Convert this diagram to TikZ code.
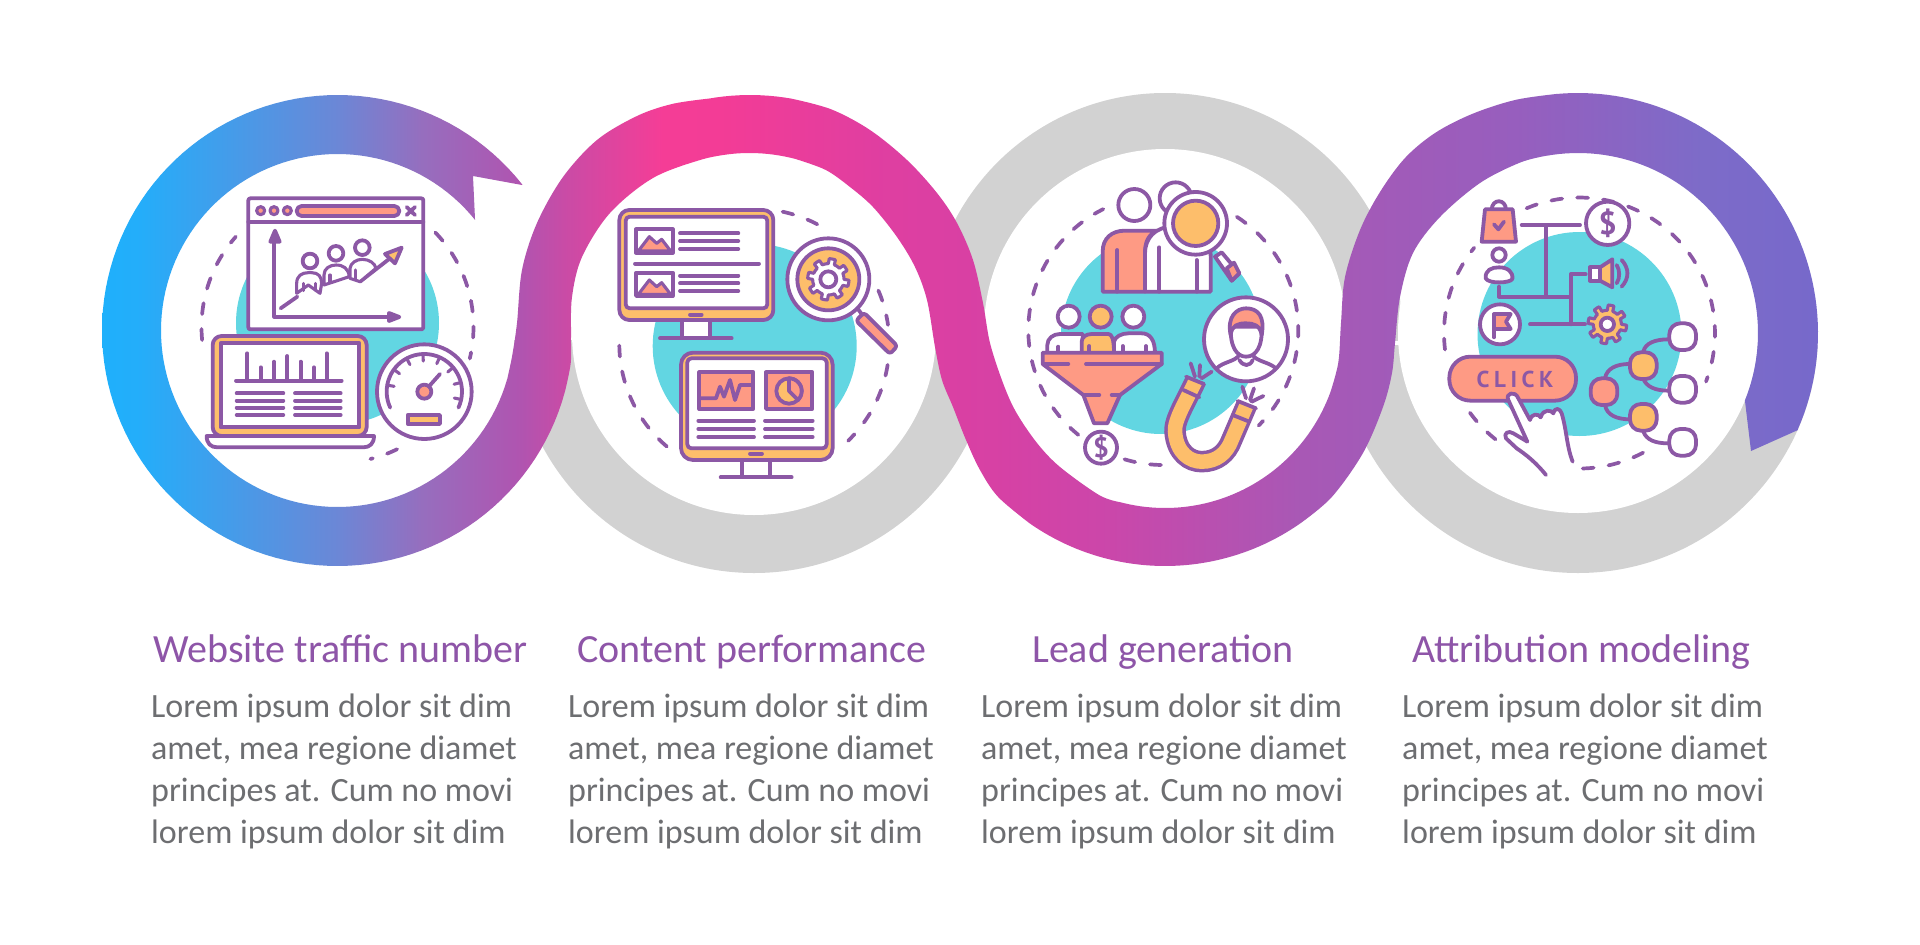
\documentclass[tikz,border=0pt]{standalone}
\usepackage{fontspec}
\setmainfont{Carlito}
\newfontfamily\clickf[LetterSpace=20]{PT Sans}
\newfontfamily\symf{PT Sans}
\definecolor{lc}{RGB}{140,88,165}
\definecolor{tealc}{RGB}{98,214,226}
\definecolor{ora}{RGB}{253,190,107}
\definecolor{sal}{RGB}{254,154,132}
\definecolor{gry}{RGB}{210,210,210}
\definecolor{ttl}{RGB}{142,85,168}
\definecolor{bod}{RGB}{109,110,113}
\pgfdeclarehorizontalshading{ribbonsh}{100bp}{
 rgb(0bp)=(.12,.69,.985); rgb(25bp)=(.12,.69,.985); rgb(26.1bp)=(.14,.68,.98);
 rgb(31.85bp)=(.42,.53,.84); rgb(34.35bp)=(.59,.43,.745); rgb(37.2bp)=(.69,.33,.69);
 rgb(38.5bp)=(.79,.295,.65); rgb(41.3bp)=(.96,.24,.59); rgb(43.3bp)=(.95,.235,.59);
 rgb(47.7bp)=(.875,.245,.63); rgb(51.2bp)=(.84,.255,.645); rgb(54.1bp)=(.80,.275,.665);
 rgb(59.9bp)=(.66,.345,.71); rgb(66.3bp)=(.59,.37,.745); rgb(71.6bp)=(.49,.42,.785);
 rgb(75bp)=(.465,.41,.795); rgb(100bp)=(.465,.41,.795)}
\tikzset{
 ic/.style={line width=3.8pt,draw=lc,line join=round,line cap=round},
 thin ic/.style={line width=3.1pt,draw=lc,line join=round,line cap=round},
 dsh/.style={line width=3.7pt,draw=lc,line cap=round,dash pattern=on 11pt off 15pt},
 crop/.style 2 args={shift={(#1,#2)},x=.33333pt,y=-.33333pt},
 titletxt/.style={anchor=base west,inner sep=0pt,text=ttl,font=\fontsize{40}{46}\selectfont},
 bodytxt/.style={anchor=base west,inner sep=0pt,text=bod,font=\fontsize{34}{42}\selectfont}
}
\newcommand\dasharc[5]{\draw[dsh] plot[domain=#4:#5,samples=40] ({#1+#3*cos(\x)},{#2+#3*sin(\x)});}
\newcommand\gearshape[5][white]{\draw[thin ic,fill=#1] plot[domain=0:360,samples=145] ({#2+(#4+(#5-#4)*(sin(8*\x)>0))*cos(\x)},{#3+(#4+(#5-#4)*(sin(8*\x)>0))*sin(\x)}) -- cycle;}
\newcommand\bodycol[2]{
 \node[bodytxt] (#1a) at (#2,717) {Lorem ipsum dolor sit dim};
 \node[bodytxt] (#1b) at (#2,759) {amet, mea regione diamet};
 \node[bodytxt] (#1c) at (#2,801) {principes at. Cum no movi};
 \node[bodytxt] (#1d) at (#2,843) {lorem ipsum dolor sit dim};}
\begin{document}
\begin{tikzpicture}[x=1pt,y=-1pt]
\useasboundingbox (0,0) rectangle (1920,945);
\fill[white] (0,0) rectangle (1920,945);
% grey rings
\begin{scope}
 \clip (400,340) rectangle (1000,600);
 \fill[gry] (754,333) circle (240);
\end{scope}
\begin{scope}
 \clip (900,60) rectangle (1420,340);
 \fill[gry] (1165,330) circle (237);
\end{scope}
\begin{scope}
 \clip (1300,345) rectangle (1850,600);
 \fill[gry] (1578,333) circle (240);
\end{scope}
\fill[white] (754,333) circle (182);
\fill[white] (1165,330) circle (181);
\fill[white] (1578,333) circle (180);
% ribbon
\path[shading=ribbonsh]
 (522,185)
 -- plot[domain=-38.3:-345,samples=120] ({337.5+235.5*cos(\x)},{330.5+235.5*sin(\x)})
 -- plot[smooth,tension=.55] coordinates {(565,391.4)(570.7,363.3)(571,337)(572,297)(582,257)(610,213)(653,178)(702.8,159.2)(733.8,153.7)}
 -- plot[domain=-95:-75,samples=12] ({749.5+180.5*cos(\x)},{333.5+180.5*sin(\x)})
 -- plot[smooth,tension=.55] coordinates {(796.2,159.2)(825.8,170)(850,187)(873,207)(897,237)(915,267)(927,300)(935,347)(942,380)(953,407)(966,440)(980,470)(998.1,496.9)(1029.6,523.3)}
 -- plot[domain=125:55,samples=50] ({1165+236*cos(\x)},{330+236*sin(\x)})
 -- plot[smooth,tension=.55] coordinates {(1300.4,523.3)(1331.9,496.9)(1363,453)(1383,407)(1392,373)(1395,343)(1400,297)(1413,253)(1440,217)(1480,183)(1520,162.6)(1546.7,155.7)}
 -- plot[domain=-100:22,samples=60] ({1578+180*cos(\x)},{333+180*sin(\x)})
 -- (1751,451) -- (1798,430)
 -- plot[domain=23.8:-95,samples=60] ({1578+240*cos(\x)},{333+240*sin(\x)})
 -- plot[smooth,tension=.55] coordinates {(1557.1,93.9)(1515,100)(1472,114)(1435,133)(1405,158)(1380,192)(1360,230)(1345,277)(1341,323)(1338.3,362.6)(1330.4,392.2)}
 -- plot[domain=20:105,samples=50] ({1165+176*cos(\x)},{332+176*sin(\x)})
 -- plot[smooth,tension=.55] coordinates {(1119.4,502)(1099,495)(1060,467)(1037,443)(1016,412)(1003,383)(990,343)(983,303)(973,260)(957,223)(937,193)(907,160)(870,130)(831.4,109.4)(791.3,98.6)}
 -- plot[domain=-80:-100,samples=12] ({750+238*cos(\x)},{333+238*sin(\x)})
 -- plot[smooth,tension=.55] coordinates {(708.7,98.6)(672,104)(637,116)(597,140)(563,177)(537,223)(522,270)(517,323)(512.3,355)(507.2,379.2)}
 -- plot[domain=16:321.2,samples=120] ({337.5+176.5*cos(\x)},{330.5+176.5*sin(\x)})
 -- (473,176) -- cycle;
% teal discs
\fill[tealc] (337.5,323) circle (101.5);
\fill[tealc] (754.7,346) circle (102);
\fill[tealc] (1161,334) circle (100);
\fill[tealc] (1579.5,334) circle (102);
% dashed rings
\dasharc{337.5}{327}{136}{174.5}{221.6}
\dasharc{337.5}{327}{136}{-44}{13.4}
\dasharc{337.5}{327}{136}{64}{76}
\dasharc{754.3}{343.7}{135}{-77.9}{-58.7}
\dasharc{754.3}{343.7}{135}{-23.2}{-8}
\dasharc{754.3}{343.7}{135}{9}{46}
\dasharc{754.3}{343.7}{135}{130.4}{184.5}
\dasharc{1163.3}{330}{135}{91}{108}
\dasharc{1163.3}{330}{135}{129}{243.6}
\dasharc{1163.3}{330}{135}{-57}{45}
\dasharc{1579.5}{333}{135.5}{173}{219}
\dasharc{1579.5}{333}{135.5}{247}{381}
\dasharc{1579.5}{333}{135.5}{128.3}{144.7}
\dasharc{1579.5}{333}{135.5}{62}{91}
% ---------- icon 1
\begin{scope}[crop={90}{80}]
 \draw[ic,fill=white,rounded corners=2pt] (475,355) rectangle (1000,748);
 \draw[ic] (475,425)--(1000,425);
 \foreach \X in {512,552,592} \draw[thin ic,fill=sal] (\X,392) circle (12);
 \draw[ic,fill=sal,rounded corners=5pt] (620,378) rectangle (928,408);
 \draw[ic] (950,381)--(975,405) (975,381)--(950,405);
 \draw[ic] (553,480)--(553,710)--(900,710);
 \draw[ic,fill=lc] (541,485)--(569,485)--(555,452)--cycle;
 \draw[ic,fill=lc] (897,699)--(897,723)--(928,711)--cycle;
 \draw[ic] (572,685)--(622,650) (810,605)--(900,535);
 \draw[ic] (660,543) circle (22) (738,520) circle (22) (817,503) circle (22);
 \draw[thin ic,fill=white] (620,640)--(620,610) .. controls (620,588) and (635,578) .. (655,578) -- (665,578) .. controls (685,578) and (695,590) .. (695,610) -- (690,640) -- (655,615) -- cycle;
 \draw[thin ic,fill=white] (702,615)--(702,585) .. controls (702,565) and (720,555) .. (738,555) .. controls (760,555) and (775,565) .. (778,590) -- (702,615);
 \draw[thin ic,fill=white] (780,595)--(780,565) .. controls (782,548) and (800,538) .. (817,538) .. controls (838,538) and (855,550) .. (858,565) -- (810,605) -- cycle;
 \draw[thin ic] (640,610)--(640,632) (677,610)--(677,632) (720,585)--(720,608) (797,570)--(797,598);
 \draw[ic,fill=ora] (885,522)--(935,503)--(915,550)--cycle;
 \draw[ic,fill=ora,rounded corners=9pt] (368,1068)--(368,768)--(830,768)--(830,1068)--cycle;
 \draw[ic,fill=white] (392,790) rectangle (808,1042);
 \draw[ic,fill=white] (350,1068)--(852,1068) .. controls (852,1090) and (840,1102) .. (820,1102) -- (382,1102) .. controls (362,1102) and (350,1090) .. (350,1068) -- cycle;
 \draw[ic] (438,902)--(755,902);
 \draw[ic] (472,820)--(472,902) (512,862)--(512,902) (552,845)--(552,902) (592,828)--(592,902) (632,845)--(632,902) (672,862)--(672,902) (710,820)--(710,902);
 \foreach \Y in {940,962,983,1005} \draw[ic] (440,\Y)--(580,\Y) (615,\Y)--(752,\Y);
 \draw[ic,fill=white] (1003,935) circle (142);
 \draw[ic] plot[domain=155:385,samples=40] ({1003+113*cos(\x)},{935+113*sin(\x)});
 \foreach \a in {190,216,242,268,294,320,346,372} \draw[thin ic] ({1003+113*cos(\a)},{935+113*sin(\a)})--({1003+92*cos(\a)},{935+92*sin(\a)});
 \draw[ic] (1018,918)--(1050,882);
 \draw[ic,fill=sal] (1003,935) circle (21);
 \draw[ic,fill=ora] (953,1005) rectangle (1050,1032);
\end{scope}
% ---------- icon 2
\begin{scope}[crop={560}{170}]
 \draw[ic,fill=white] (365,450) rectangle (450,505);
 \draw[ic] (300,505)--(515,505);
 \draw[ic,fill=ora,rounded corners=10pt] (178,120) rectangle (640,450);
 \draw[ic,fill=white,rounded corners=4pt] (197,140) rectangle (622,415);
 \draw[ic] (390,434)--(425,434);
 \foreach \Y in {0,130}{
  \draw[ic,fill=white] (228,178+\Y) rectangle (338,248+\Y);
  \draw[thin ic,fill=sal] (235,243+\Y)--(268,200+\Y)--(290,220+\Y)--(305,208+\Y)--(332,243+\Y)--cycle;
  \draw[ic] (360,190+\Y-3*\Y/130)--(535,190+\Y-3*\Y/130) (360,213+\Y-3*\Y/130)--(535,213+\Y-3*\Y/130) (360,237+\Y-4*\Y/130)--(535,237+\Y-4*\Y/130);
 }
 \draw[ic] (225,281)--(597,281);
 \draw[ic] (890,412)--(905,432);
 \draw[ic,fill=sal,rounded corners=3pt] (888,452)--(912,428)--(1012,528)--(990,552)--cycle;
 \draw[ic,fill=white] (805,328) circle (123);
 \draw[ic,fill=ora] (805,328) circle (93);
 \gearshape{805}{328}{47}{62}
 \draw[ic,fill=white] (805,328) circle (24);
 \draw[ic,fill=white] (547,870) rectangle (630,922);
 \draw[ic] (482,922)--(695,922);
 \draw[ic,fill=ora,rounded corners=12pt] (363,548) rectangle (818,870);
 \draw[ic,fill=white,rounded corners=4pt] (382,565) rectangle (800,835);
 \draw[ic] (570,851)--(606,851);
 \draw[ic,fill=sal] (418,607) rectangle (580,717);
 \draw[ic,fill=sal] (618,607) rectangle (757,717);
 \draw[ic] (420,685)--(468,685)--(480,650)--(492,680)--(510,630)--(525,690)--(540,645)--(578,645);
 \draw[ic,fill=ora] (687,663) circle (38);
 \draw[ic,fill=sal] (687,663)--plot[domain=-90:45,samples=20] ({687+38*cos(\x)},{663+38*sin(\x)})--cycle;
 \foreach \Y in {752,777,801} \draw[ic] (415,\Y)--(582,\Y) (615,\Y)--(758,\Y);
\end{scope}
% ---------- icon 3
\begin{scope}[crop={1000}{160}]
 \draw[ic,fill=white] (527,115) circle (48);
 \draw[ic,fill=white] (403,135) circle (48);
 \draw[ic,fill=sal] (308,395)--(308,275) .. controls (308,235) and (335,212) .. (375,212) -- (470,212) .. controls (445,225) and (435,245) .. (435,280) -- (435,395) -- cycle;
 \draw[ic,fill=white] (435,395)--(435,280) .. controls (435,235) and (465,200) .. (520,200) -- (570,200) .. controls (610,200) and (632,240) .. (632,290) -- (632,395) -- cycle;
 \draw[ic] (352,270)--(352,395) (478,262)--(478,395) (590,300)--(590,395);
 \draw[ic,fill=white] (645,290)--(665,277)--(718,340)--(695,362)--cycle;
 \draw[ic,fill=sal] (680,325)--(702,308)--(718,340)--(695,362)--cycle;
 \draw[ic,fill=white] (587,190) circle (94);
 \draw[ic,fill=ora] (587,190) circle (68);
 \draw[ic,fill=white] (206,470) circle (33);
 \draw[ic,fill=ora] (302,470) circle (33);
 \draw[ic,fill=white] (400,470) circle (33);
 \draw[ic,fill=white] (142,580)--(142,555) .. controls (142,535) and (160,522) .. (180,522) -- (248,522) -- (248,580) -- cycle;
 \draw[ic,fill=white] (342,580)--(342,545) .. controls (345,530) and (365,520) .. (385,520) -- (425,520) .. controls (450,520) and (465,540) .. (465,580) -- cycle;
 \draw[ic,fill=ora] (245,580)--(245,545) .. controls (245,532) and (258,522) .. (275,522) -- (325,522) .. controls (335,522) and (342,535) .. (342,580) -- cycle;
 \draw[ic] (175,560)--(175,580) (268,558)--(268,580) (368,558)--(368,580) (438,558)--(438,580);
 \draw[ic,fill=sal] (128,578)--(485,578)--(485,612)--(360,705)--(322,790)--(282,790)--(250,705)--(128,612)--cycle;
 \draw[ic] (130,612)--(205,612) (258,612)--(485,612) (250,705)--(298,705) (335,705)--(360,705);
 \draw[ic,fill=white] (303,863) circle (48);
 \node[text=lc,font=\fontsize{28}{28}\selectfont\symf\bfseries] (dollara) at (303,863) {\$};
 \draw[ic,fill=white] (738,538) circle (126);
 \begin{scope}
  \clip (738,538) circle (124);
  \draw[ic] (650,625) .. controls (670,605) and (705,605) .. (718,585) (758,585) .. controls (770,605) and (805,605) .. (828,625) (718,600) .. controls (730,620) and (750,620) .. (758,600);
 \end{scope}
 \draw[ic,fill=white] (692,500) .. controls (690,560) and (710,590) .. (738,590) .. controls (768,590) and (788,560) .. (785,500) -- cycle;
 \draw[ic,fill=sal] (692,525) .. controls (680,470) and (710,445) .. (738,445) .. controls (775,445) and (795,470) .. (785,525) .. controls (780,495) and (760,490) .. (738,490) .. controls (715,490) and (695,495) .. (692,525) -- cycle;
 \draw[draw=lc,line width=21.5pt] (588,660) .. controls (560,720) and (522,780) .. (525,815) .. controls (530,880) and (570,905) .. (605,905) .. controls (650,905) and (680,880) .. (695,840) -- (740,735);
 \draw[draw=ora,line width=14.5pt] (588,660) .. controls (560,720) and (522,780) .. (525,815) .. controls (530,880) and (570,905) .. (605,905) .. controls (650,905) and (680,880) .. (695,840) -- (740,735);
 \draw[ic] (558,650)--(612,672) (713,723)--(768,745) (550,690)--(598,712) (698,765)--(748,785);
 \draw[ic] (572,610)--(585,650) (600,615)--(598,650) (635,635)--(605,655) (727,680)--(738,715) (762,685)--(750,720) (790,708)--(755,725);
\end{scope}
% ---------- icon 4
\begin{scope}[crop={1420}{180}]
 \draw[ic] (215,90) .. controls (215,55) and (258,55) .. (258,90);
 \draw[ic,fill=sal] (195,88)--(278,88)--(288,185)--(185,185)--cycle;
 \draw[ic] (222,133)--(235,148)--(252,125);
 \draw[ic] (305,135)--(480,135) (378,135)--(378,350) (237,320)--(237,350)--(452,350) (497,283)--(452,283)--(452,433) (330,433)--(495,433);
 \draw[ic,fill=white] (563,130) circle (65);
 \node[text=lc,font=\fontsize{32}{32}\selectfont\symf\bfseries] (dollarb) at (563,130) {\$};
 \draw[ic,fill=white] (237,225) circle (20);
 \draw[ic,fill=white] (197,295) .. controls (195,270) and (215,262) .. (237,262) .. controls (262,262) and (280,275) .. (277,297) .. controls (270,310) and (205,312) .. (197,295) -- cycle;
 \draw[ic,fill=white] (240,433) circle (60);
 \draw[ic,fill=sal] (222,402)--(272,402)--(258,425)--(272,447)--(222,447)--cycle;
 \draw[ic] (222,402)--(222,472);
 \draw[ic,fill=white] (510,262) rectangle (540,302);
 \draw[ic,fill=ora] (540,262)--(577,238)--(577,322)--(540,302)--cycle;
 \draw[ic] (590,255) .. controls (600,270) and (600,295) .. (590,310) (605,240) .. controls (628,265) and (628,295) .. (605,320);
 \gearshape[ora]{562}{433}{42}{58}
 \draw[ic,fill=white] (562,433) circle (20);
 \draw[ic,fill=sal,rounded corners=21pt] (88,530) rectangle (468,662);
 \node[text=lc,font=\fontsize{23}{23}\selectfont\clickf\bfseries] (clicktxt) at (285,598) {CLICK};
 \draw[ic,fill=white] (378,885) .. controls (350,850) and (320,825) .. (290,805) -- (258,775) .. controls (250,760) and (265,750) .. (280,760) -- (322,785) -- (265,660) .. controls (255,640) and (285,630) .. (295,655) -- (330,720) .. controls (335,700) and (355,700) .. (362,712) .. controls (370,685) and (395,690) .. (400,700) .. controls (405,680) and (420,685) .. (425,700) .. controls (440,750) and (440,800) .. (458,845);
 \draw[ic] (555,595) .. controls (560,565) and (590,552) .. (628,552) (555,675) .. controls (560,705) and (590,718) .. (630,718) (670,515) .. controls (675,490) and (705,478) .. (745,478) (670,597) .. controls (680,620) and (705,632) .. (745,632) (670,755) .. controls (680,780) and (705,790) .. (745,790);
 \draw[ic,fill=sal,rounded corners=11pt] (512,595) rectangle (592,675);
 \draw[ic,fill=ora,rounded corners=11pt] (630,517) rectangle (710,597);
 \draw[ic,fill=ora,rounded corners=11pt] (630,672) rectangle (710,752);
 \draw[ic,fill=white,rounded corners=11pt] (748,430) rectangle (828,510);
 \draw[ic,fill=white,rounded corners=11pt] (748,588) rectangle (828,668);
 \draw[ic,fill=white,rounded corners=11pt] (748,747) rectangle (828,827);
\end{scope}
% ---------- text
\node[titletxt] (t1) at (153,662) {Website traffic number};
\node[titletxt] (t2) at (577,662) {Content performance};
\node[titletxt] (t3) at (1032,662) {Lead generation};
\node[titletxt] (t4) at (1412,662) {Attribution modeling};
\bodycol{ba}{151}
\bodycol{bb}{568}
\bodycol{bc}{981}
\bodycol{bd}{1402}
\end{tikzpicture}
\end{document}
